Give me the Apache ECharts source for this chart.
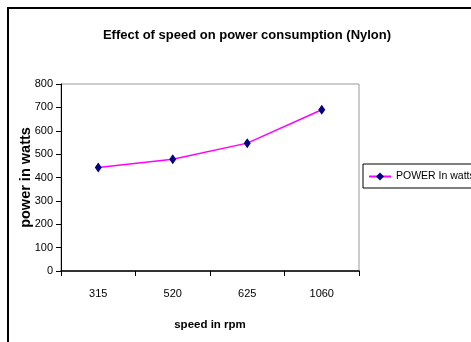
<!DOCTYPE html>
<html>
<head>
<meta charset="utf-8">
<script src="https://cdn.jsdelivr.net/npm/echarts@6/dist/echarts.min.js"></script>
<style>
  html, body { margin: 0; padding: 0; background: #fff; }
  #chart { width: 471px; height: 342px; }
</style>
</head>
<body>
<div id="chart"></div>
<script>
// speed categories and measured power
const speeds = ['315', '520', '625', '1060']
const power = [443, 478, 547, 690]
const yTicks = [0, 100, 200, 300, 400, 500, 600, 700, 800]

const font = '"Liberation Sans", Arial, sans-serif'

const myChart = echarts.init(document.getElementById('chart'))
myChart.setOption({
  animation: false,
  title: {
    text: 'Effect of speed on power consumption (Nylon)',
    left: 242,
    top: 24,
    textAlign: 'center',
    textStyle: { fontFamily: font, fontSize: 13, fontWeight: 'bold', color: '#000' }
  },
  graphic: [{
    type: 'rect',
    shape: { x: 8, y: 8, width: 520, height: 400 },
    style: { fill: 'none', stroke: '#000', lineWidth: 2 },
    z: 0
  }],
  grid: {
    left: 61,
    right: 112,
    top: 84,
    bottom: 71,
    show: true,
    borderColor: '#999',
    borderWidth: 1
  },
  legend: {
    left: 363,
    top: 164,
    orient: 'vertical',
    padding: [7, 6, 6, 5],
    borderColor: '#000',
    borderWidth: 1,
    itemWidth: 22,
    itemHeight: 10,
    itemGap: 4,
    textStyle: { fontFamily: font, fontSize: 10.5, color: '#000' },
    data: ['POWER In watts']
  },
  xAxis: {
    type: 'category',
    data: speeds,
    boundaryGap: true,
    name: 'speed in rpm',
    nameLocation: 'middle',
    nameGap: 48,
    nameMoveOverlap: false,
    nameTextStyle: { fontFamily: font, fontSize: 11.5, fontWeight: 'bold', color: '#000' },
    axisLine: { lineStyle: { color: '#000', width: 1.5 } },
    axisTick: { show: true, length: 5, inside: false, lineStyle: { color: '#000' } },
    axisLabel: { fontFamily: font, fontSize: 11, color: '#000', margin: 17 }
  },
  yAxis: {
    type: 'value',
    min: yTicks[0],
    max: yTicks[yTicks.length - 1],
    interval: 100,
    name: 'power in watts',
    nameLocation: 'middle',
    nameGap: 28,
    nameMoveOverlap: false,
    nameRotate: 90,
    nameTextStyle: { fontFamily: font, fontSize: 14.5, fontWeight: 'bold', color: '#000' },
    axisLine: { show: true, lineStyle: { color: '#000', width: 1 } },
    axisTick: { show: true, length: 5, lineStyle: { color: '#000' } },
    splitLine: { show: false },
    axisLabel: { fontFamily: font, fontSize: 11, color: '#000', margin: 8 }
  },
  series: [{
    name: 'POWER In watts',
    type: 'line',
    data: power,
    symbol: 'diamond',
    symbolSize: [7, 10],
    itemStyle: { color: '#000080' },
    lineStyle: { color: '#FF00FF', width: 1.5 }
  }]
})
</script>
</body>
</html>
